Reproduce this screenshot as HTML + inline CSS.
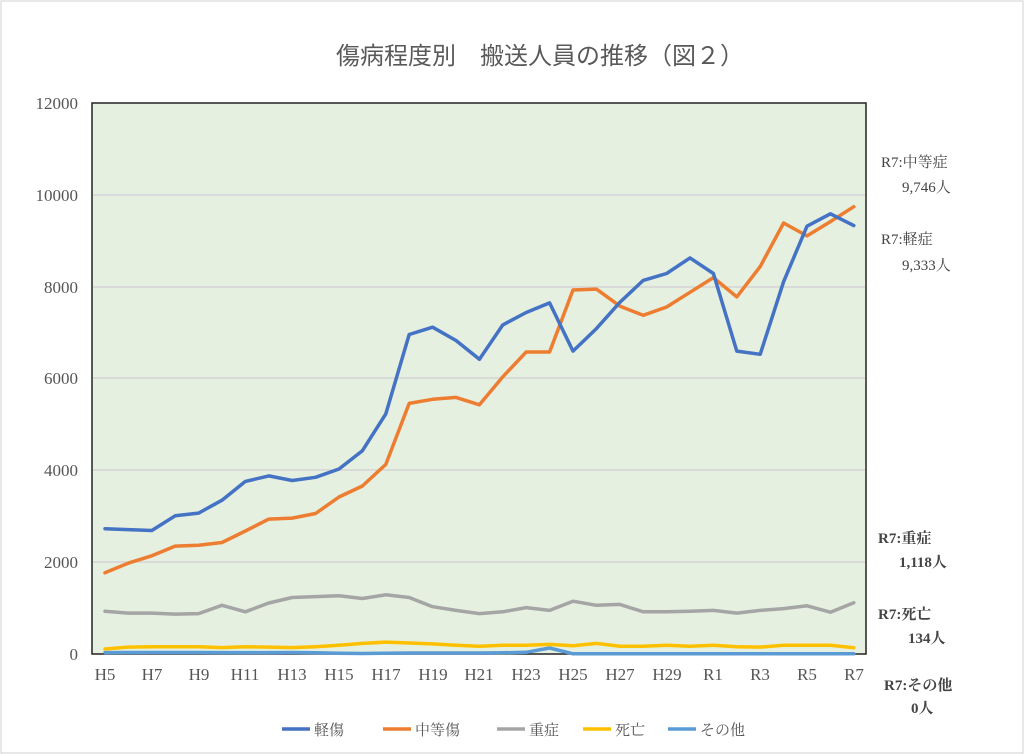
<!DOCTYPE html>
<html><head><meta charset="utf-8"><style>
body{margin:0;background:#fff;}
svg{display:block;font-family:"Liberation Serif","Noto Serif CJK JP",serif;}
.ann{font-family:"Liberation Serif","Noto Serif CJK JP",serif;font-size:15px;fill:#444;}
</style></head><body>
<svg width="1024" height="754" viewBox="0 0 1024 754">
<rect x="1" y="1" width="1022" height="752" fill="#fff" stroke="#d0d0d0"/>
<text x="540" y="64" text-anchor="middle" font-size="24" fill="#595959" font-family="Liberation Sans, Noto Sans CJK JP, sans-serif">傷病程度別　搬送人員の推移（図２）</text>
<rect x="92" y="103" width="774" height="551" fill="#e6f0e0" stroke="#222" stroke-width="1.5"/>
<g stroke="#d4d4d4" stroke-width="1.5">
<line x1="93" y1="195" x2="865" y2="195"/><line x1="93" y1="287" x2="865" y2="287"/>
<line x1="93" y1="378" x2="865" y2="378"/><line x1="93" y1="470" x2="865" y2="470"/>
<line x1="93" y1="562" x2="865" y2="562"/>
</g>
<g font-size="17" fill="#555" text-anchor="end">
<text x="78" y="109">12000</text><text x="78" y="201">10000</text><text x="78" y="293">8000</text>
<text x="78" y="384">6000</text><text x="78" y="476">4000</text><text x="78" y="568">2000</text><text x="78" y="660">0</text>
</g>
<g font-size="17" fill="#555" text-anchor="middle">
<text x="105" y="680">H5</text><text x="152" y="680">H7</text><text x="199" y="680">H9</text>
<text x="245" y="680">H11</text><text x="292" y="680">H13</text><text x="339" y="680">H15</text>
<text x="386" y="680">H17</text><text x="433" y="680">H19</text><text x="479" y="680">H21</text>
<text x="526" y="680">H23</text><text x="573" y="680">H25</text><text x="620" y="680">H27</text>
<text x="667" y="680">H29</text><text x="713" y="680">R1</text><text x="760" y="680">R3</text>
<text x="807" y="680">R5</text><text x="854" y="680">R7</text>
</g>
<g fill="none" stroke-width="3.5" stroke-linejoin="round" stroke-linecap="round">
<polyline stroke="#5b9bd5" points="105,652.6 128.4,652.5 151.8,652.5 175.2,652.5 198.6,652.5 222,652.6 245.4,652.6 268.8,652.6 292.2,652.5 315.6,652.8 339,653.3 362.4,653.5 385.8,653.2 409.2,653 432.6,653 456,653 479.4,653 502.8,652.8 526.2,652.3 549.6,648 573,653.8 596.4,653.8 619.8,653.8 643.2,653.8 666.6,653.8 690,653.8 713.4,653.8 736.8,653.8 760.2,653.8 783.6,653.8 807,653.8 830.4,653.8 853.8,653.8"/>
<polyline stroke="#ffc000" points="105,649 128.4,647.1 151.8,646.7 175.2,646.7 198.6,646.7 222,647.6 245.4,646.7 268.8,647.1 292.2,647.6 315.6,646.7 339,645.3 362.4,643.4 385.8,642.1 409.2,643 432.6,643.9 456,645.3 479.4,646.2 502.8,645.3 526.2,645.3 549.6,644.4 573,645.7 596.4,643.4 619.8,646.2 643.2,646.2 666.6,645.3 690,646.2 713.4,645.3 736.8,646.7 760.2,647.1 783.6,645.3 807,645.3 830.4,645.3 853.8,647.8"/>
<polyline stroke="#a5a5a5" points="105,611.3 128.4,613.1 151.8,613.1 175.2,614.1 198.6,613.6 222,605.3 245.4,611.8 268.8,603 292.2,597.5 315.6,596.6 339,595.7 362.4,598.5 385.8,594.8 409.2,597.5 432.6,606.7 456,610.4 479.4,613.6 502.8,611.8 526.2,607.6 549.6,610.4 573,601.2 596.4,605.3 619.8,604.4 643.2,611.8 666.6,611.8 690,611.3 713.4,610.4 736.8,613.1 760.2,610.4 783.6,608.6 807,605.8 830.4,612.2 853.8,602.7"/>
<polyline stroke="#ed7d31" points="105,572.8 128.4,563.1 151.8,555.8 175.2,546.1 198.6,545.2 222,542.5 245.4,531 268.8,519.1 292.2,518.1 315.6,513.5 339,497 362.4,486 385.8,464.4 409.2,403.4 432.6,399.3 456,397.4 479.4,404.8 502.8,376.8 526.2,352 549.6,352 573,290 596.4,289.1 619.8,306.1 643.2,315.3 666.6,307 690,292.3 713.4,277.6 736.8,296.9 760.2,266.6 783.6,223 807,235.9 830.4,221.6 853.8,206.7"/>
<polyline stroke="#4472c4" points="105,528.7 128.4,529.6 151.8,530.5 175.2,515.8 198.6,513.1 222,500.2 245.4,481.4 268.8,475.9 292.2,480.5 315.6,477.3 339,469 362.4,450.7 385.8,413.9 409.2,334.5 432.6,327.2 456,340.5 479.4,359.3 502.8,324.9 526.2,312.5 549.6,302.9 573,351.1 596.4,328.6 619.8,302.4 643.2,280.4 666.6,273.5 690,257.9 713.4,273.5 736.8,351.1 760.2,354.3 783.6,281.7 807,226.2 830.4,213.8 853.8,225.6"/>
</g>
<g class="ann">
<text x="881" y="167">R7:中等症</text><text x="902" y="192">9,746人</text>
<text x="881" y="244">R7:軽症</text><text x="902" y="270">9,333人</text>
<g font-weight="bold"><text x="878" y="543">R7:重症</text><text x="899" y="567">1,118人</text>
<text x="878" y="619">R7:死亡</text><text x="908" y="643">134人</text>
<text x="884" y="690">R7:その他</text><text x="911" y="713">0人</text></g>
</g>
<g font-size="15" fill="#555">
<line x1="282" y1="729" x2="310" y2="729" stroke="#4472c4" stroke-width="3.5"/><text x="314" y="735">軽傷</text>
<line x1="383" y1="729" x2="411" y2="729" stroke="#ed7d31" stroke-width="3.5"/><text x="415" y="735">中等傷</text>
<line x1="497" y1="729" x2="525" y2="729" stroke="#a5a5a5" stroke-width="3.5"/><text x="529" y="735">重症</text>
<line x1="583" y1="729" x2="611" y2="729" stroke="#ffc000" stroke-width="3.5"/><text x="615" y="735">死亡</text>
<line x1="668" y1="729" x2="696" y2="729" stroke="#5b9bd5" stroke-width="3.5"/><text x="700" y="735">その他</text>
</g>
</svg>
</body></html>
